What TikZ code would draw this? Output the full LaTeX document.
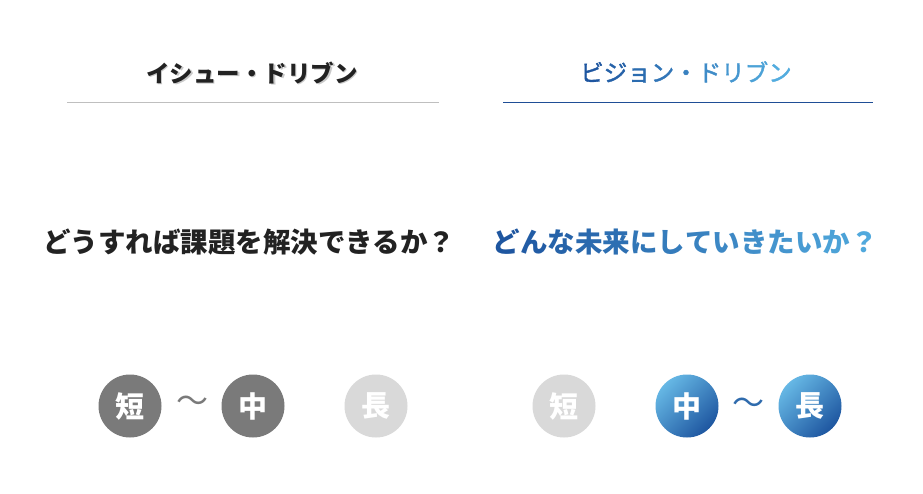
\documentclass[tikz,border=0pt]{standalone}
\usepackage{fontspec}
\newfontfamily\jp{Noto Sans CJK JP}
\newfontfamily\jpmedio[FakeBold=1.6]{Noto Sans CJK JP}
\usepackage{tikz}
\usetikzlibrary{shadings}
\definecolor{grigio}{HTML}{7A7A7A}
\definecolor{grigiochiaro}{HTML}{D9D9D9}
\definecolor{scuro}{HTML}{222222}
\definecolor{bluscuro}{HTML}{1E56A0}
\definecolor{bluchiaro}{HTML}{55B0E2}
\definecolor{linea}{HTML}{1F4E96}
\newcommand\gc[2]{\textcolor{bluscuro!#1!bluchiaro}{#2}}
\tikzset{
  titolo/.style={font=\jp\bfseries\fontsize{23.5}{28}\selectfont},
  domanda/.style={font=\jp\bfseries\fontsize{27.5}{32}\selectfont},
  palla/.style={circle,minimum size=63pt,inner sep=0pt,text=white,
    font=\jp\bfseries\fontsize{29}{32}\selectfont},
  pallagrigia/.style={palla,fill=grigio},
  pallaspenta/.style={palla,fill=grigiochiaro},
  pallablu/.style={palla,top color=bluchiaro!90!white,bottom color=bluscuro,shading angle=45},
  tilde/.style={font=\jp\fontsize{32}{34}\selectfont}
}
\begin{document}
\begin{tikzpicture}[x=1pt,y=-1pt]
\useasboundingbox[fill=white] (0,0) rectangle (923,494);

%i titoli
\node[titolo,text=black!35,opacity=0.6] at (253.5,74.5) {イシュー・ドリブン};
\node[titolo,text=scuro] (issue) at (252,73) {イシュー・ドリブン};
\node[titolo,font=\jpmedio\fontsize{23.5}{28}\selectfont] (vision) at (686,72) {\gc{100}{ビ}\gc{88}{ジ}\gc{76}{ョ}\gc{64}{ン}\gc{52}{・}\gc{40}{ド}\gc{28}{リ}\gc{16}{ブ}\gc{5}{ン}};
\draw[black!25] (67,102) -- (439,102);
\draw[linea] (503,102) -- (873,102);

%le domande
\node[domanda,text=scuro] (q1) at (249,242) {どうすれば課題を解決できるか？};
\node[domanda] (q2) at (685,242) {\gc{100}{ど}\gc{93}{ん}\gc{86}{な}\gc{79}{未}\gc{72}{来}\gc{65}{に}\gc{58}{し}\gc{51}{て}\gc{44}{い}\gc{37}{き}\gc{30}{た}\gc{23}{い}\gc{16}{か}\gc{8}{？}};

%i tempi
\node[pallagrigia] (a1) at (130,406) {短};
\node[tilde,text=grigio] (t1) at (192,404) {～};
\node[pallagrigia] (a2) at (253,406) {中};
\node[pallaspenta] (a3) at (376,406) {長};

\node[pallaspenta] (b1) at (564,406) {短};
\node[pallablu] (b2) at (687,406) {中};
\node[tilde,text=linea!70!bluchiaro] (t2) at (748,406) {～};
\node[pallablu] (b3) at (810,406) {長};

\end{tikzpicture}
\end{document}
